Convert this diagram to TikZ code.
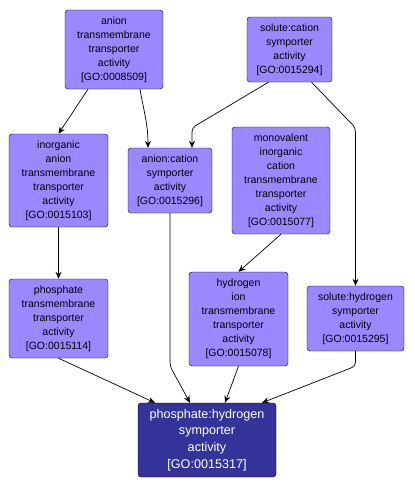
\documentclass[tikz,border=0pt]{standalone}
\usepackage{fontspec}
\setmainfont{Liberation Sans}
\usetikzlibrary{arrows.meta}
\definecolor{golight}{RGB}{153,136,255}
\definecolor{godark}{RGB}{51,51,153}
\begin{document}
\begin{tikzpicture}[x=1pt,y=-1pt,
	term/.style={draw=black,fill=golight,rounded corners=3pt,align=center,inner sep=0pt,
		font=\fontsize{10.5}{14}\selectfont,text=black},
	focus/.style={term,fill=godark,text=white,font=\fontsize{12.6}{16.7}\selectfont},
	edge/.style={draw=black,line width=0.7pt,-{Stealth[length=7pt,width=6pt]}}]
		\useasboundingbox (0,0) rectangle (415,490);
		%top row
		\node[term,minimum width=98pt,minimum height=79pt] (n8509) at (114,49.5) {anion\\transmembrane\\transporter\\activity\\{[GO:0008509]}};
		\node[term,minimum width=85pt,minimum height=65pt] (n5294) at (289.5,49.5) {solute:cation\\symporter\\activity\\{[GO:0015294]}};
		%middle row
		\node[term,minimum width=99pt,minimum height=93pt] (n5103) at (58.5,180.5) {inorganic\\anion\\transmembrane\\transporter\\activity\\{[GO:0015103]}};
		\node[term,minimum width=84pt,minimum height=65pt] (n5296) at (170,180.5) {anion:cation\\symporter\\activity\\{[GO:0015296]}};
		\node[term,minimum width=98pt,minimum height=107pt] (n5077) at (281,180.5) {monovalent\\inorganic\\cation\\transmembrane\\transporter\\activity\\{[GO:0015077]}};
		%lower row
		\node[term,minimum width=99pt,minimum height=79pt] (n5114) at (58.5,318.5) {phosphate\\transmembrane\\transporter\\activity\\{[GO:0015114]}};
		\node[term,minimum width=99pt,minimum height=94pt] (n5078) at (238.5,319) {hydrogen\\ion\\transmembrane\\transporter\\activity\\{[GO:0015078]}};
		\node[term,minimum width=97pt,minimum height=65pt] (n5295) at (355.5,318.5) {solute:hydrogen\\symporter\\activity\\{[GO:0015295]}};
		%bottom
		\node[focus,minimum width=138pt,minimum height=74pt] (n5317) at (207,440) {phosphate:hydrogen\\symporter\\activity\\{[GO:0015317]}};
		%edges
		\draw[edge] ([xshift=-26pt]n8509.south) -- (n5103.north);
		\draw[edge] ([xshift=26pt]n8509.south) to[out=-80,in=90] ([xshift=-22pt]n5296.north);
		\draw[edge,rounded corners=4pt] ([xshift=-21pt]n5294.south) -- ([xshift=22pt,yshift=20pt]n5296.north) -- ([xshift=22pt]n5296.north);
		\draw[edge,rounded corners=4pt] ([xshift=22pt]n5294.south) -- ([yshift=158pt]n5295.north) -- (n5295.north);
		\draw[edge] (n5103.south) -- (n5114.north);
		\draw[edge] (n5077.south) -- (n5078.north);
		\draw[edge] (n5114.south) -- ([xshift=-52pt]n5317.north);
		\draw[edge,rounded corners=4pt] (n5296.south) -- ([yshift=-153pt]n5296.south) -- ([xshift=-17pt]n5317.north);
		\draw[edge] (n5078.south) -- ([xshift=18pt]n5317.north);
		\draw[edge,rounded corners=4pt] (n5295.south) -- ([yshift=-15pt]n5295.south) -- ([xshift=55pt]n5317.north);
	\end{tikzpicture}
\end{document}
